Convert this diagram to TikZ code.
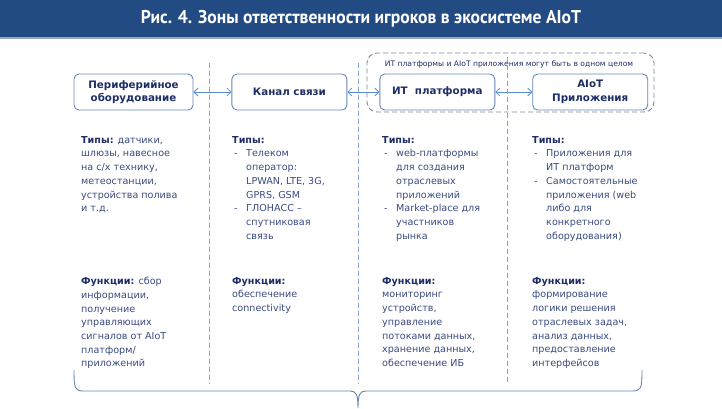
\documentclass[tikz,border=0pt]{standalone}
\usepackage{fontspec}
\setmainfont{DejaVu Sans}
\newfontfamily\titlefont{PT Sans}[FakeStretch=0.95]
\usetikzlibrary{arrows.meta,positioning,decorations.pathreplacing}
\usepackage{xcolor}

\definecolor{titlebg}{HTML}{234B83}
\definecolor{titleedge}{HTML}{9AA5B5}
\definecolor{boxline}{HTML}{6784B4}
\definecolor{arrowc}{HTML}{5B8BD0}
\definecolor{sepline}{HTML}{7FA3D6}
\definecolor{groupline}{HTML}{7D889C}
\definecolor{headc}{HTML}{1F2D66}
\definecolor{bodyc}{HTML}{3A4A80}

% list lines
\newcommand{\lidash}[1]{\makebox[14pt][l]{\hspace{2pt}-}#1}
\newcommand{\licont}[1]{\hspace*{14pt}#1}
\newcommand{\hd}[1]{\textbf{\color{headc}#1}}

\begin{document}
\begin{tikzpicture}[x=1pt,y=-1pt,
      node distance=7mm and 8mm,
      box/.style={draw=boxline,rounded corners=5pt,align=center,inner sep=2pt,
                  minimum width=115pt,minimum height=36pt,line width=0.9pt,
                  font=\fontsize{10.3}{13.5}\selectfont\bfseries,text=headc},
      group/.style={draw=groupline,dashed,dash pattern=on 5pt off 3pt,
                  rounded corners=10pt,line width=0.9pt},
      txt/.style={anchor=north west,align=left,inner sep=0pt,text=bodyc,
                  font=\fontsize{9.6}{13.7}\selectfont},
      arr/.style={{Straight Barb[length=4pt,width=8pt]}-{Straight Barb[length=4pt,width=8pt]},
                  arrowc,line width=0.8pt},
      sep/.style={sepline,line width=0.9pt,dash pattern=on 5pt off 3pt}]
    \useasboundingbox (0,0) rectangle (722,408);

    % title bar
    \fill[titlebg] (0,0) rectangle (722,37);
    \fill[titleedge] (0,37) rectangle (722,39);
    \node[text=white,font=\titlefont\fontsize{18.5}{21}\selectfont\bfseries] (title) at (361,19)
      {Рис. 4. Зоны ответственности игроков в экосистеме AIoT};

    % group of IT platform and AIoT apps
    \node[group,minimum width=287pt,minimum height=59pt] (grp) at (510.5,82.5) {};
    \node[font=\fontsize{7.6}{9}\selectfont,text=headc] (grplabel) at (509,64)
      {ИТ платформы и AIoT приложения могут быть в одном целом};

    % dividers
    \foreach \sx/\sy in {209/63,358/63,507/57}
      \draw[sep] (\sx,\sy) -- (\sx,384);

    % boxes
    \node[box,minimum width=119pt] (periph) at (133.5,92) {Периферийное\\оборудование};
    \node[box,right=38pt of periph] (channel) {Канал связи};
    \node[box,right=32pt of channel] (itplat) {ИТ\ \ платформа};
    \node[box,right=37pt of itplat] (aiotapp) {AIoT\\Приложения};
    \draw[arr] (periph) -- (channel);
    \draw[arr] (channel) -- (itplat);
    \draw[arr] (itplat) -- (aiotapp);

    % types
    \node[txt] (types1) at (81,136) {\hd{Типы:} датчики,\\шлюзы, навесное\\на с/х технику,\\метеостанции,\\устройства полива\\и т.д.};
    \node[txt] (types2) at (232,136) {\hd{Типы:}\\\lidash{Телеком}\\\licont{оператор:}\\\licont{LPWAN, LTE, 3G,}\\\licont{GPRS, GSM}\\\lidash{ГЛОНАСС –}\\\licont{спутниковая}\\\licont{связь}};
    \node[txt] (types3) at (382,136) {\hd{Типы:}\\\lidash{web-платформы}\\\licont{для создания}\\\licont{отраслевых}\\\licont{приложений}\\\lidash{Market-place для}\\\licont{участников}\\\licont{рынка}};
    \node[txt] (types4) at (532,136) {\hd{Типы:}\\\lidash{Приложения для}\\\licont{ИТ платформ}\\\lidash{Самостоятельные}\\\licont{приложения (web}\\\licont{либо для}\\\licont{конкретного}\\\licont{оборудования)}};

    % functions
    \node[txt] (func1) at (81,277) {\hd{Функции:} сбор\\информации,\\получение\\управляющих\\сигналов от AIoT\\платформ/\\приложений};
    \node[txt] (func2) at (232,277) {\hd{Функции:}\\обеспечение\\connectivity};
    \node[txt] (func3) at (382,277) {\hd{Функции:}\\мониторинг\\устройств,\\управление\\потоками данных,\\хранение данных,\\обеспечение ИБ};
    \node[txt] (func4) at (532,277) {\hd{Функции:}\\формирование\\логики решения\\отраслевых задач,\\анализ данных,\\предоставление\\интерфейсов};

    % brace
    \coordinate (brl) at (74,370);
    \coordinate (brr) at (642,370);
    \coordinate (brtip) at (358,408);
    \draw[boxline,line width=0.9pt] (brl) .. controls (74,389) and (75,391) .. (84,391) -- (350,391)
      .. controls (356,391) and (358,394) .. (brtip)
      .. controls (358,394) and (360,391) .. (366,391) -- (632,391)
      .. controls (641,391) and (642,389) .. (brr);
  \end{tikzpicture}
\end{document}
